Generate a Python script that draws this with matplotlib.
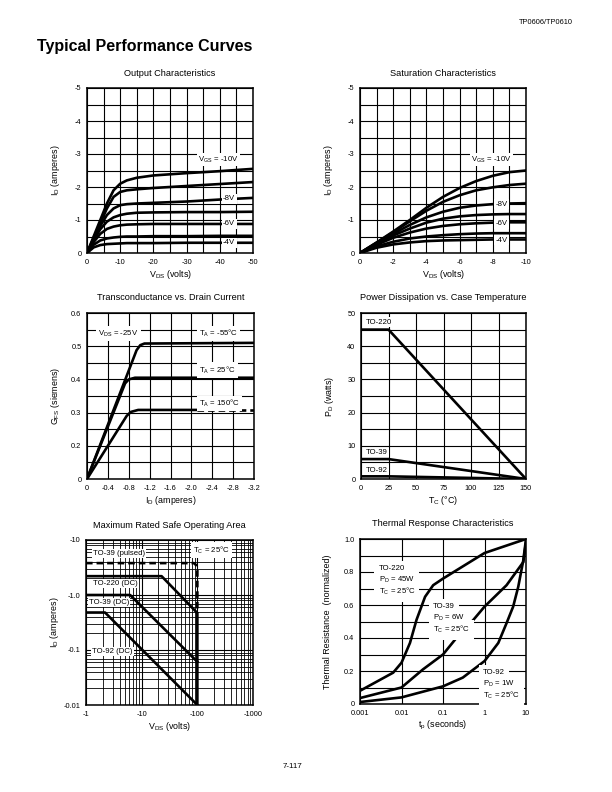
import matplotlib
matplotlib.use("Agg")
import matplotlib.pyplot as plt
from matplotlib.ticker import FixedLocator, FixedFormatter, NullFormatter

plt.rcParams['font.family'] = ['Liberation Sans', 'DejaVu Sans']
plt.rcParams['axes.unicode_minus'] = False
plt.rcParams['mathtext.default'] = 'regular'

# ---------------- data ----------------
# Output characteristics (|VDS| volts, |ID| amperes)
out_vds = [0, 2, 4, 6, 8, 10, 12, 15, 20, 30, 40, 50]
out_id_m10 = [0, 0.50, 1.00, 1.50, 1.90, 2.10, 2.20, 2.28, 2.35, 2.42, 2.48, 2.55]
out_id_m9 = [0, 0.45, 0.90, 1.35, 1.70, 1.85, 1.90, 1.93, 1.97, 2.03, 2.09, 2.15]
out_id_m8 = [0, 0.42, 0.82, 1.15, 1.35, 1.45, 1.48, 1.50, 1.52, 1.56, 1.62, 1.67]
out_id_m7 = [0, 0.38, 0.72, 0.95, 1.08, 1.15, 1.19, 1.22, 1.23, 1.24, 1.24, 1.25]
out_id_m6 = [0, 0.33, 0.58, 0.73, 0.80, 0.84, 0.86, 0.87, 0.88, 0.88, 0.88, 0.88]
out_id_m5 = [0, 0.25, 0.38, 0.44, 0.47, 0.49, 0.50, 0.50, 0.51, 0.51, 0.52, 0.52]
out_id_m4 = [0, 0.17, 0.24, 0.27, 0.28, 0.29, 0.30, 0.30, 0.30, 0.31, 0.31, 0.31]

# Saturation characteristics
sat_vds = [0, 1, 2, 3, 4, 5, 6, 7, 8, 9, 10]
sat_id_m10 = [0, 0.32, 0.65, 1.00, 1.37, 1.70, 1.97, 2.18, 2.34, 2.45, 2.50]
sat_id_m9 = [0, 0.31, 0.63, 0.96, 1.28, 1.55, 1.75, 1.90, 1.99, 2.06, 2.10]
sat_id_m8 = [0, 0.30, 0.58, 0.85, 1.08, 1.25, 1.37, 1.44, 1.48, 1.50, 1.51]
sat_id_m7 = [0, 0.28, 0.53, 0.74, 0.92, 1.04, 1.11, 1.15, 1.17, 1.18, 1.18]
sat_id_m6 = [0, 0.25, 0.46, 0.62, 0.74, 0.82, 0.87, 0.90, 0.92, 0.93, 0.93]
sat_id_m5 = [0, 0.20, 0.34, 0.44, 0.50, 0.54, 0.57, 0.59, 0.60, 0.60, 0.60]
sat_id_m4 = [0, 0.16, 0.26, 0.32, 0.36, 0.38, 0.39, 0.40, 0.41, 0.41, 0.41]

# Transconductance (values in the chart's axis units; bottom edge is labelled "0")
gfs_id_m55 = [0, 0.95, 1.02, 1.10, 3.2]
gfs_m55 = [0.10, 0.488, 0.503, 0.508, 0.510]
gfs_id_25 = [0, 0.73, 0.80, 0.92, 3.2]
gfs_25 = [0.10, 0.388, 0.400, 0.405, 0.405]
gfs_id_150 = [0, 0.76, 0.84, 0.98, 2.1]
gfs_150 = [0.10, 0.290, 0.302, 0.308, 0.308]
gfs_id_150_ext = [2.1, 3.2]
gfs_150_ext = [0.308, 0.308]

# Power dissipation
pd_tc = [0, 25, 150]
pd_to220 = [45, 45, 0]
pd_to39 = [6, 6, 0]
pd_to92 = [0.8, 0.8, 0]

# Safe operating area (|VDS|, |ID|)
soa_pulsed_v = [1, 87, 95, 100, 100]
soa_pulsed_i = [3.8, 3.8, 3.5, 2.8, 0.47]
soa_to220_v = [1, 22.8, 100, 100]
soa_to220_i = [2.2, 2.2, 0.47, 0.01]
soa_to39_v = [1, 6.2, 100]
soa_to39_i = [1.0, 1.0, 0.061]
soa_to92_v = [1, 2.2, 100]
soa_to92_i = [0.48, 0.48, 0.01]

# Thermal response
th_t220 = [0.001, 0.0063, 0.01, 0.016, 0.023, 0.037, 0.058, 0.1, 1, 10]
th_r220 = [0.08, 0.19, 0.25, 0.37, 0.51, 0.65, 0.72, 0.76, 0.915, 1.0]
th_t39 = [0.001, 0.01, 0.033, 0.1, 0.21, 0.3, 0.54, 1, 3.4, 8.6, 10]
th_r39 = [0.036, 0.10, 0.21, 0.30, 0.40, 0.44, 0.51, 0.59, 0.72, 0.86, 0.98]
th_t92 = [0.001, 0.01, 0.1, 0.3, 1, 2.15, 3.4, 4.9, 6.5, 8.6, 10]
th_r92 = [0.012, 0.04, 0.107, 0.16, 0.26, 0.37, 0.49, 0.59, 0.71, 0.87, 1.0]

# ---------------- layout ----------------
W, H = 612, 792
fig = plt.figure(figsize=(6.12, 7.92), dpi=100)

TICK_FS = 5.3
LAB_FS = 6.4
TIT_FS = 6.6
ANN_FS = 5.6
LW = 1.9
GRID_LW = 0.8
XLAB_Y = -0.09
YLAB_X = -0.15


def ax_at(l, t, r, b):
    return fig.add_axes([l / W, 1 - b / H, (r - l) / W, (b - t) / H])


def style(ax, xmaj, xlabs, xmin, ymaj, ylabs, ymin, minor_lw=GRID_LW):
    ax.xaxis.set_major_locator(FixedLocator(xmaj))
    ax.xaxis.set_major_formatter(FixedFormatter(xlabs))
    ax.yaxis.set_major_locator(FixedLocator(ymaj))
    ax.yaxis.set_major_formatter(FixedFormatter(ylabs))
    if xmin is not None:
        ax.xaxis.set_minor_locator(FixedLocator(xmin))
        ax.xaxis.set_minor_formatter(NullFormatter())
    if ymin is not None:
        ax.yaxis.set_minor_locator(FixedLocator(ymin))
        ax.yaxis.set_minor_formatter(NullFormatter())
    ax.tick_params(which='both', length=0, labelsize=TICK_FS, pad=4)
    ax.grid(True, which='major', color='black', lw=GRID_LW)
    ax.grid(True, which='minor', color='black', lw=minor_lw)
    ax.set_axisbelow(True)
    for s in ax.spines.values():
        s.set_linewidth(1.1)


def labels(ax, xl, yl, ylx=YLAB_X):
    ax.set_xlabel(xl, fontsize=LAB_FS)
    ax.set_ylabel(yl, fontsize=LAB_FS)
    ax.xaxis.set_label_coords(0.5, XLAB_Y)
    ax.yaxis.set_label_coords(ylx, 0.5)


def lbl(ax, x, y, s, ha='left', fs=ANN_FS, pad=1.0):
    ax.text(x, y, s, fontsize=fs, ha=ha, va='center', zorder=6,
            bbox=dict(fc='white', ec='none', pad=pad))


def title(ax, s):
    ax.set_title(s, fontsize=TIT_FS, pad=9)


# ---- Output characteristics ----
ax1 = ax_at(87, 88, 253, 253)
for ys in [out_id_m10, out_id_m9, out_id_m8, out_id_m7, out_id_m6, out_id_m5, out_id_m4]:
    ax1.plot(out_vds, ys, color='black', lw=LW)
ax1.set_xlim(0, 50)
ax1.set_ylim(0, 5)
style(ax1, [0, 10, 20, 30, 40, 50], ['0', '-10', '-20', '-30', '-40', '-50'],
      [5, 15, 25, 35, 45],
      [0, 1, 2, 3, 4, 5], ['0', '-1', '-2', '-3', '-4', '-5'],
      [0.5, 1.5, 2.5, 3.5, 4.5])
title(ax1, 'Output Characteristics')
labels(ax1, 'V$_{DS}$ (volts)', 'I$_{D}$ (amperes)')
lbl(ax1, 33.5, 2.82, 'V$_{GS}$ = -10V')
lbl(ax1, 41, out_id_m8[-2] + 0.02, '-8V')
lbl(ax1, 41, out_id_m6[-2], '-6V')
lbl(ax1, 41, out_id_m4[-2], '-4V')

# ---- Saturation characteristics ----
ax2 = ax_at(360, 88, 526, 253)
for ys in [sat_id_m10, sat_id_m9, sat_id_m8, sat_id_m7, sat_id_m6, sat_id_m5, sat_id_m4]:
    ax2.plot(sat_vds, ys, color='black', lw=LW)
ax2.set_xlim(0, 10)
ax2.set_ylim(0, 5)
style(ax2, [0, 2, 4, 6, 8, 10], ['0', '-2', '-4', '-6', '-8', '-10'],
      [1, 3, 5, 7, 9],
      [0, 1, 2, 3, 4, 5], ['0', '-1', '-2', '-3', '-4', '-5'],
      [0.5, 1.5, 2.5, 3.5, 4.5])
title(ax2, 'Saturation Characteristics')
labels(ax2, 'V$_{DS}$ (volts)', 'I$_{D}$ (amperes)')
lbl(ax2, 6.7, 2.82, 'V$_{GS}$ = -10V')
lbl(ax2, 8.15, sat_id_m8[-3], '-8V')
lbl(ax2, 8.15, sat_id_m6[-3] - 0.03, '-6V')
lbl(ax2, 8.15, sat_id_m4[-3] - 0.02, '-4V')

# ---- Transconductance ----
ax3 = ax_at(87, 313, 254, 479)
ax3.plot(gfs_id_m55, gfs_m55, color='black', lw=LW)
ax3.plot(gfs_id_25, gfs_25, color='black', lw=LW)
ax3.plot(gfs_id_150, gfs_150, color='black', lw=LW)
ax3.plot(gfs_id_150_ext, gfs_150_ext, color='black', lw=LW, ls=(0, (2.5, 1.5)))
ax3.set_xlim(0, 3.2)
ax3.set_ylim(0.1, 0.6)
style(ax3, [0, 0.4, 0.8, 1.2, 1.6, 2.0, 2.4, 2.8, 3.2],
      ['0', '-0.4', '-0.8', '-1.2', '-1.6', '-2.0', '-2.4', '-2.8', '-3.2'], None,
      [0.1, 0.2, 0.3, 0.4, 0.5, 0.6], ['0', '0.2', '0.3', '0.4', '0.5', '0.6'],
      [0.15, 0.25, 0.35, 0.45, 0.55])
title(ax3, 'Transconductance vs. Drain Current')
labels(ax3, 'I$_{D}$ (amperes)', 'G$_{FS}$ (siemens)')
lbl(ax3, 0.22, 0.538, 'V$_{DS}$ = -25V', pad=1.5)
lbl(ax3, 2.15, 0.538, 'T$_{A}$ = -55°C', pad=1.5)
lbl(ax3, 2.15, 0.428, 'T$_{A}$ = 25°C', pad=1.5)
lbl(ax3, 2.15, 0.328, 'T$_{A}$ = 150°C', pad=1.5)

# ---- Power dissipation ----
ax4 = ax_at(361, 313, 526, 479)
ax4.plot(pd_tc, pd_to220, color='black', lw=LW)
ax4.plot(pd_tc, pd_to39, color='black', lw=LW)
ax4.plot(pd_tc, pd_to92, color='black', lw=LW)
ax4.set_xlim(0, 150)
ax4.set_ylim(0, 50)
style(ax4, [0, 25, 50, 75, 100, 125, 150], ['0', '25', '50', '75', '100', '125', '150'], None,
      [0, 10, 20, 30, 40, 50], ['0', '10', '20', '30', '40', '50'],
      [5, 15, 25, 35, 45])
title(ax4, 'Power Dissipation vs. Case Temperature')
labels(ax4, 'T$_{C}$ (°C)', 'P$_{D}$ (watts)')
lbl(ax4, 4.5, 47.2, 'TO-220')
lbl(ax4, 4.5, 8.0, 'TO-39')
lbl(ax4, 4.5, 2.6, 'TO-92')

# ---- Safe operating area ----
ax5 = ax_at(86, 540, 253, 705)
ax5.set_xscale('log')
ax5.set_yscale('log')
ax5.plot(soa_pulsed_v, soa_pulsed_i, color='black', lw=LW, ls=(0, (2.5, 1.5)))
ax5.plot(soa_to220_v, soa_to220_i, color='black', lw=LW)
ax5.plot(soa_to39_v, soa_to39_i, color='black', lw=LW)
ax5.plot(soa_to92_v, soa_to92_i, color='black', lw=LW)
ax5.set_xlim(1, 1000)
ax5.set_ylim(0.01, 10)
xminor = [m * d for d in (1, 10, 100) for m in range(2, 10)]
yminor = [m * d for d in (0.01, 0.1, 1) for m in range(2, 10)]
style(ax5, [1, 10, 100, 1000], ['-1', '-10', '-100', '-1000'], xminor,
      [0.01, 0.1, 1, 10], ['-0.01', '-0.1', '-1.0', '-10'], yminor, minor_lw=0.6)
title(ax5, 'Maximum Rated Safe Operating Area')
labels(ax5, 'V$_{DS}$ (volts)', 'I$_{D}$ (amperes)')
lbl(ax5, 1.32, 5.7, 'TO-39 (pulsed)', pad=0.8)
lbl(ax5, 1.32, 1.6, 'TO-220 (DC)', pad=0.8)
lbl(ax5, 1.12, 0.73, 'TO-39 (DC)', pad=0.5)
lbl(ax5, 1.3, 0.093, 'TO-92 (DC)', pad=0.8)
lbl(ax5, 85, 6.6, 'T$_{C}$ = 25°C', pad=1.5)

# ---- Thermal response ----
ax6 = ax_at(360, 539, 526, 704)
ax6.set_xscale('log')
ax6.plot(th_t220, th_r220, color='black', lw=LW)
ax6.plot(th_t39, th_r39, color='black', lw=LW)
ax6.plot(th_t92, th_r92, color='black', lw=LW)
ax6.set_xlim(0.001, 10)
ax6.set_ylim(0, 1.0)
style(ax6, [0.001, 0.01, 0.1, 1, 10], ['0.001', '0.01', '0.1', '1', '10'], [],
      [0, 0.2, 0.4, 0.6, 0.8, 1.0], ['0', '0.2', '0.4', '0.6', '0.8', '1.0'],
      [0.1, 0.3, 0.5, 0.7, 0.9])
title(ax6, 'Thermal Response Characteristics')
labels(ax6, 't$_{p}$ (seconds)', 'Thermal Resistance  (normalized)', ylx=-0.17)
for x0, lines, ys in [(0.0028, ['TO-220', 'P$_{D}$ = 45W', 'T$_{C}$ = 25°C'], [0.82, 0.75, 0.68]),
                      (0.058, ['TO-39', 'P$_{D}$ = 6W', 'T$_{C}$ = 25°C'], [0.59, 0.52, 0.45]),
                      (0.93, ['TO-92', 'P$_{D}$ = 1W', 'T$_{C}$ = 25°C'], [0.19, 0.12, 0.05])]:
    for s, y in zip(lines, ys):
        lbl(ax6, x0, y, s, pad=3.0)

# ---- page text ----
fig.text(37 / W, 1 - 46 / H, 'Typical Performance Curves', fontsize=11.5, fontweight='bold',
         family=['Liberation Sans Narrow', 'Liberation Sans'], va='center', ha='left')
fig.text(573 / W, 1 - 22 / H, 'TP0606/TP0610', fontsize=5.3, ha='right', va='center')
fig.text(293 / W, 1 - 766 / H, '7-117', fontsize=5.8, ha='center', va='center')

fig.savefig('out.png', dpi=100)
